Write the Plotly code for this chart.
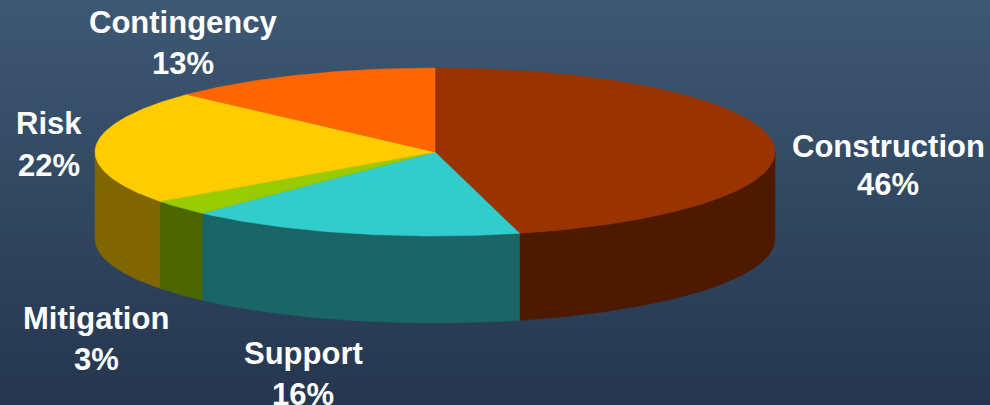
import numpy as np
import plotly.graph_objects as go

# Budget breakdown
labels = ["Construction", "Support", "Mitigation", "Risk", "Contingency"]
shares = [46, 16, 3, 22, 13]
top_colors = ["#993300", "#33CCCC", "#99CC00", "#FFCC00", "#FF6600"]
side_colors = ["#4D1A00", "#1A6666", "#4D6600", "#806600", "#803300"]

# Label placement (pixel space): centre x, first-line y, second-line y
label_pos = {
    "Construction": (888, 146, 184),
    "Support": (303, 353, 394),
    "Mitigation": (96, 318, 359),
    "Risk": (49, 123, 165),
    "Contingency": (183, 22, 63),
}

W, H = 990, 405
CX, CY = 435, 152          # centre of the top face
RX, RY = 340, 84           # ellipse radii of the top face
DEPTH = 87                 # thickness of the disc
BG_TOP, BG_BOTTOM = "#3E5873", "#25364E"


def arc(a0, a1, dy=0.0, n=None):
    """Points on the ellipse, angles in degrees clockwise from 12 o'clock."""
    if n is None:
        n = max(4, int(abs(a1 - a0) * 2))
    t = np.radians(np.linspace(a0, a1, n))
    return CX + RX * np.sin(t), CY - RY * np.cos(t) + dy


fig = go.Figure()

# Background gradient
ys = np.linspace(0, H, 82)
fig.add_trace(go.Heatmap(
    x=[0, W], y=ys, z=[[v, v] for v in ys],
    colorscale=[[0, BG_TOP], [1, BG_BOTTOM]],
    showscale=False, hoverinfo="skip", zsmooth="best",
))

total = float(sum(shares))
bounds = np.concatenate([[0], np.cumsum(shares)]) / total * 360.0

# Outer walls (only the front half of the disc is visible)
for i, lab in enumerate(labels):
    lo, hi = max(bounds[i], 90.0), min(bounds[i + 1], 270.0)
    if hi <= lo:
        continue
    xt, yt = arc(lo, hi)
    xb, yb = arc(hi, lo, dy=DEPTH)
    xs = np.concatenate([xt, xb, xt[:1]])
    ys_ = np.concatenate([yt, yb, yt[:1]])
    fig.add_trace(go.Scatter(
        x=xs, y=ys_, mode="lines", fill="toself",
        fillcolor=side_colors[i], line=dict(width=0.5, color=side_colors[i]),
        hoverinfo="skip", showlegend=False,
    ))

# Top faces
for i, lab in enumerate(labels):
    xa, ya = arc(bounds[i], bounds[i + 1])
    xs = np.concatenate([[CX], xa, [CX]])
    ys_ = np.concatenate([[CY], ya, [CY]])
    fig.add_trace(go.Scatter(
        x=xs, y=ys_, mode="lines", fill="toself",
        fillcolor=top_colors[i], line=dict(width=0.5, color=top_colors[i]),
        hoverinfo="skip", showlegend=False,
    ))

# Category and percentage labels
font = dict(family="Liberation Sans, Arial, sans-serif", size=31, color="white")
for lab, val in zip(labels, shares):
    x, y1, y2 = label_pos[lab]
    for txt, yy in ((lab, y1), (f"{val}%", y2)):
        fig.add_annotation(
            x=x, y=yy, text=f"<b>{txt}</b>", showarrow=False,
            xanchor="center", yanchor="middle", font=font,
        )

fig.update_layout(
    width=W, height=H,
    margin=dict(l=0, r=0, t=0, b=0),
    paper_bgcolor=BG_BOTTOM, plot_bgcolor=BG_BOTTOM,
    showlegend=False,
    xaxis=dict(range=[0, W], visible=False, fixedrange=True),
    yaxis=dict(range=[H, 0], visible=False, fixedrange=True),
)

fig.write_html("out.html")
